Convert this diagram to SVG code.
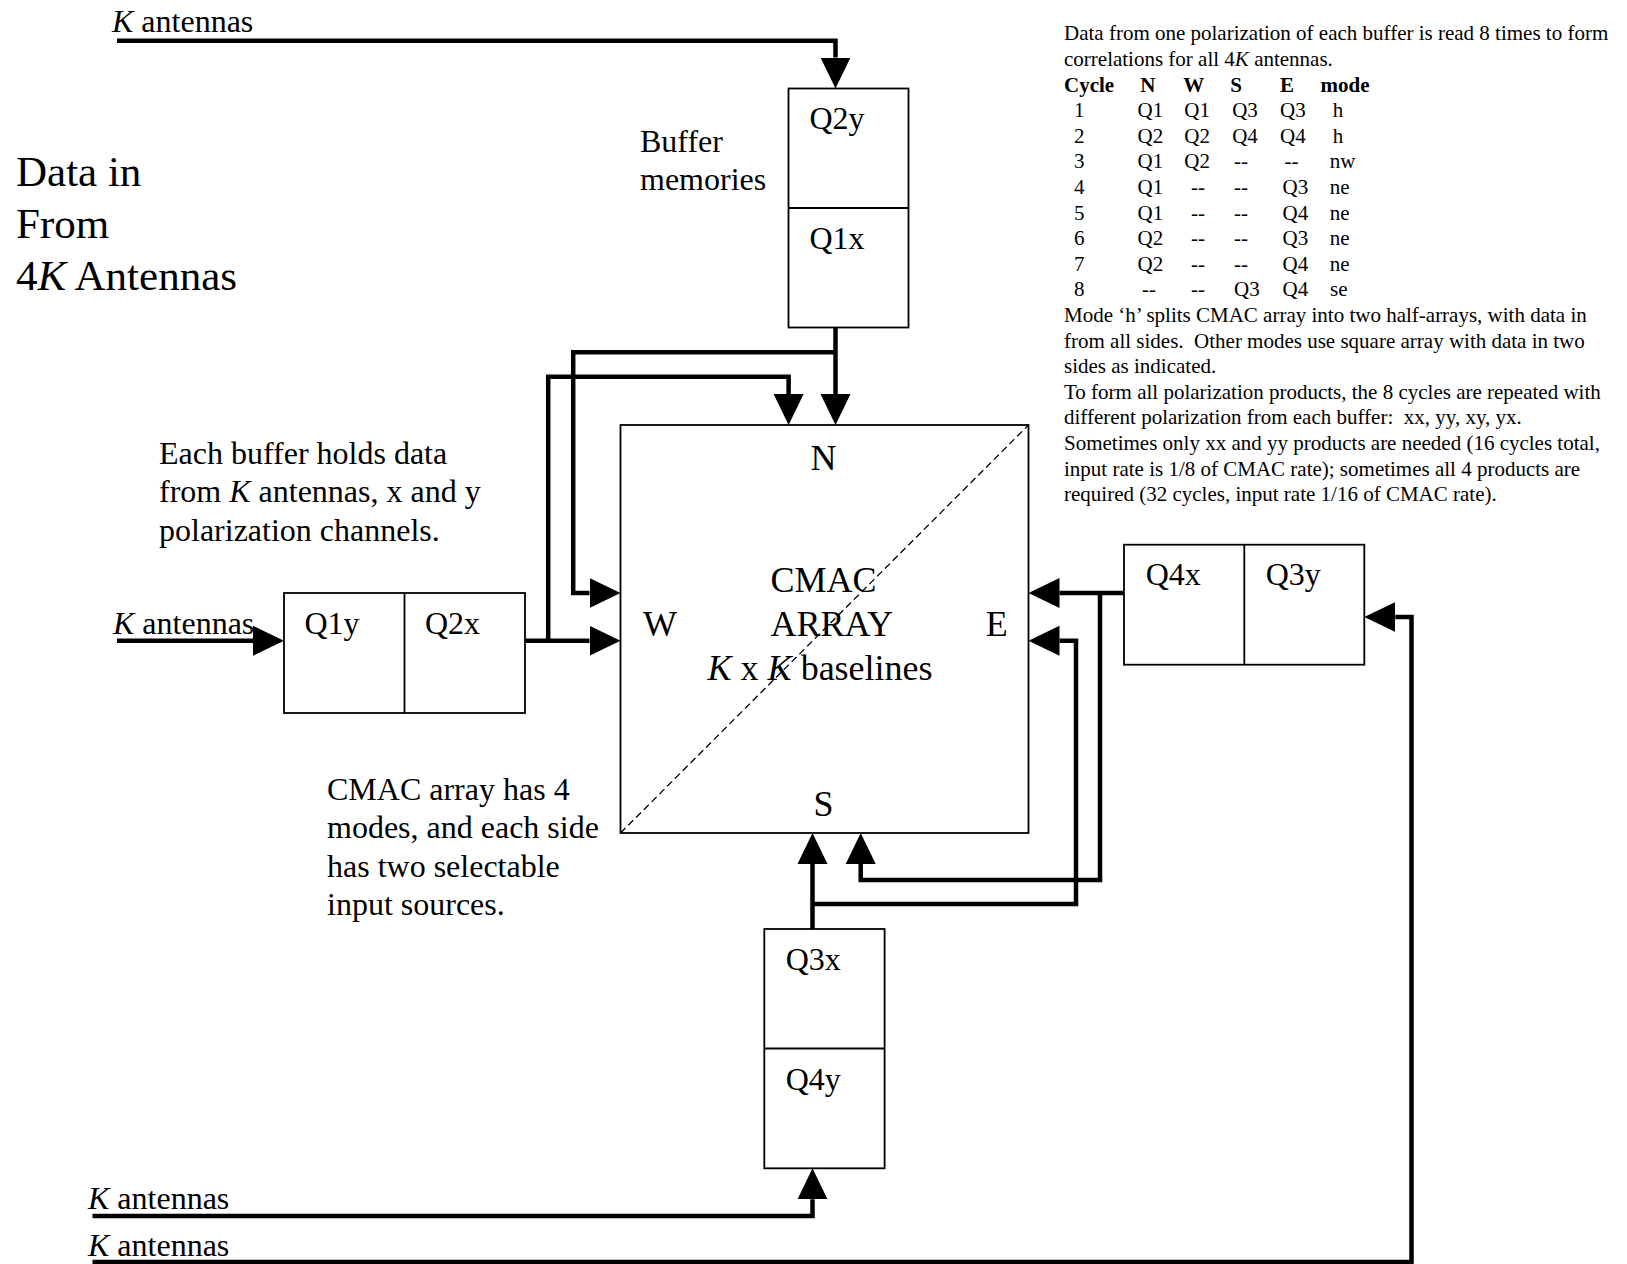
<svg xmlns="http://www.w3.org/2000/svg" width="1627" height="1264" viewBox="0 0 1627 1264">
<style>
text{font-family:"Liberation Serif","Times New Roman",serif;fill:#000}
.q{font-size:32px}
.m{font-size:32px}
.big{font-size:43px}
.c{font-size:36px}
.s{font-size:21px}
.b{font-weight:bold}
.i{font-style:italic}
.box{fill:#fff;stroke:#000;stroke-width:1.8}
.div{stroke:#000;stroke-width:1.8}
.w{fill:none;stroke:#000;stroke-width:4.5;stroke-linejoin:miter}
</style>
<defs>
<marker id="ah" markerUnits="userSpaceOnUse" markerWidth="32" markerHeight="32" viewBox="0 -16 32 32" refX="0" refY="0" orient="auto">
<path d="M0,-15 L31,0 L0,15 z" fill="#000"/>
</marker>
</defs>

<g id="notes">
<text class="big" x="16" y="186">Data in</text>
<text class="big" x="16" y="238">From</text>
<text class="big" x="16" y="289.5">4<tspan class="i">K</tspan> Antennas</text>
<text class="m" x="640" y="152">Buffer</text>
<text class="m" x="640" y="190">memories</text>
<text class="m" x="159" y="464">Each buffer holds data</text>
<text class="m" x="159" y="502.4">from <tspan class="i">K</tspan> antennas, x and y</text>
<text class="m" x="159" y="540.8">polarization channels.</text>
<text class="m" x="327" y="800">CMAC array has 4</text>
<text class="m" x="327" y="838.4">modes, and each side</text>
<text class="m" x="327" y="876.8">has two selectable</text>
<text class="m" x="327" y="915.2">input sources.</text>
<text class="m" x="112" y="32"><tspan class="i">K</tspan> antennas</text>
<text class="m" x="113" y="634"><tspan class="i">K</tspan> antennas</text>
<text class="m" x="88" y="1209"><tspan class="i">K</tspan> antennas</text>
<text class="m" x="88" y="1256"><tspan class="i">K</tspan> antennas</text>
</g>

<g id="table" class="s">
<text class="s" x="1064" y="40.3">Data from one polarization of each buffer is read 8 times to form</text>
<text class="s" x="1064" y="65.9">correlations for all 4<tspan class="i">K</tspan> antennas.</text>
<text class="s b" y="91.5"><tspan x="1064">Cycle</tspan><tspan x="1140.2">N</tspan><tspan x="1183.2">W</tspan><tspan x="1230.3">S</tspan><tspan x="1280">E</tspan><tspan x="1320.5">mode</tspan></text>
<text class="s" y="117.1"><tspan x="1074">1</tspan><tspan x="1137.6">Q1</tspan><tspan x="1184.3">Q1</tspan><tspan x="1232.2">Q3</tspan><tspan x="1280">Q3</tspan><tspan x="1332.7">h</tspan></text>
<text class="s" y="142.7"><tspan x="1074">2</tspan><tspan x="1137.6">Q2</tspan><tspan x="1184.3">Q2</tspan><tspan x="1232.2">Q4</tspan><tspan x="1280">Q4</tspan><tspan x="1332.7">h</tspan></text>
<text class="s" y="168.3"><tspan x="1074">3</tspan><tspan x="1137.6">Q1</tspan><tspan x="1184.3">Q2</tspan><tspan x="1234">--</tspan><tspan x="1284.4">--</tspan><tspan x="1329.7">nw</tspan></text>
<text class="s" y="193.9"><tspan x="1074">4</tspan><tspan x="1137.6">Q1</tspan><tspan x="1191">--</tspan><tspan x="1234">--</tspan><tspan x="1282.6">Q3</tspan><tspan x="1329.7">ne</tspan></text>
<text class="s" y="219.5"><tspan x="1074">5</tspan><tspan x="1137.6">Q1</tspan><tspan x="1191">--</tspan><tspan x="1234">--</tspan><tspan x="1282.6">Q4</tspan><tspan x="1329.7">ne</tspan></text>
<text class="s" y="245.1"><tspan x="1074">6</tspan><tspan x="1137.6">Q2</tspan><tspan x="1191">--</tspan><tspan x="1234">--</tspan><tspan x="1282.6">Q3</tspan><tspan x="1329.7">ne</tspan></text>
<text class="s" y="270.7"><tspan x="1074">7</tspan><tspan x="1137.6">Q2</tspan><tspan x="1191">--</tspan><tspan x="1234">--</tspan><tspan x="1282.6">Q4</tspan><tspan x="1329.7">ne</tspan></text>
<text class="s" y="296.3"><tspan x="1074">8</tspan><tspan x="1142">--</tspan><tspan x="1191">--</tspan><tspan x="1234">Q3</tspan><tspan x="1282.6">Q4</tspan><tspan x="1330">se</tspan></text>
<text class="s" x="1064" y="321.9">Mode ‘h’ splits CMAC array into two half-arrays, with data in</text>
<text class="s" x="1064" y="347.5">from all sides.&#160; Other modes use square array with data in two</text>
<text class="s" x="1064" y="373.1">sides as indicated.</text>
<text class="s" x="1064" y="398.7">To form all polarization products, the 8 cycles are repeated with</text>
<text class="s" x="1064" y="424.3">different polarization from each buffer:&#160; xx, yy, xy, yx.</text>
<text class="s" x="1064" y="449.9">Sometimes only xx and yy products are needed (16 cycles total,</text>
<text class="s" x="1064" y="475.5">input rate is 1/8 of CMAC rate); sometimes all 4 products are</text>
<text class="s" x="1064" y="501.1">required (32 cycles, input rate 1/16 of CMAC rate).</text>
</g>

<g id="connectors">
<path class="w" d="M117,40.7 H835.5 V57.5" marker-end="url(#ah)"/>
<path class="w" d="M835.5,327.5 V394" marker-end="url(#ah)"/>
<path class="w" d="M835.5,352.3 H573.2 V593 H589.5" marker-end="url(#ah)"/>
<path class="w" d="M525,640.7 H589.5" marker-end="url(#ah)"/>
<path class="w" d="M548.2,640.7 V376.7 H788.6 V394" marker-end="url(#ah)"/>
<path class="w" d="M117,640.7 H253" marker-end="url(#ah)"/>
<path class="w" d="M1124,593 H1059.5" marker-end="url(#ah)"/>
<path class="w" d="M1100,593 V880 H860.7 V864" marker-end="url(#ah)"/>
<path class="w" d="M812.5,929 V864" marker-end="url(#ah)"/>
<path class="w" d="M812.5,904 H1076 V640.7 H1059.5" marker-end="url(#ah)"/>
<path class="w" d="M92.5,1216 H812.5 V1199.3" marker-end="url(#ah)"/>
<path class="w" d="M92.5,1262 H1411.5 V617 H1395.3" marker-end="url(#ah)"/>
</g>

<g id="cmac">
<rect class="box" x="620.5" y="425" width="408" height="408" fill="none"/>
<line x1="620.5" y1="833" x2="1028.5" y2="425" stroke="#000" stroke-width="1.3" stroke-dasharray="7 4"/>
<text class="c" x="823.5" y="470" text-anchor="middle">N</text>
<text class="c" x="823.5" y="815.7" text-anchor="middle">S</text>
<text class="c" x="643" y="636">W</text>
<text class="c" x="985.7" y="636">E</text>
<text class="c" x="770.4" y="592.3">CMAC</text>
<text class="c" x="770.4" y="636">ARRAY</text>
<text class="c" x="707.6" y="680"><tspan class="i">K</tspan> x <tspan class="i">K</tspan> baselines</text>
</g>

<g id="buffer-n">
<rect class="box" x="788.5" y="88.5" width="120" height="239"/>
<line class="div" x1="788.5" y1="208" x2="908.5" y2="208"/>
<text class="q" x="809.5" y="128.5">Q2y</text>
<text class="q" x="809.5" y="248.5">Q1x</text>
</g>

<g id="buffer-w">
<rect class="box" x="284" y="593" width="241" height="120"/>
<line class="div" x1="404.5" y1="593" x2="404.5" y2="713"/>
<text class="q" x="304.5" y="634">Q1y</text>
<text class="q" x="425" y="634">Q2x</text>
</g>

<g id="buffer-e">
<rect class="box" x="1124" y="544.7" width="240.3" height="120"/>
<line class="div" x1="1244.3" y1="544.7" x2="1244.3" y2="664.7"/>
<text class="q" x="1145.7" y="585">Q4x</text>
<text class="q" x="1265.7" y="585">Q3y</text>
</g>

<g id="buffer-s">
<rect class="box" x="764.3" y="929" width="120.3" height="239.3"/>
<line class="div" x1="764.3" y1="1048.5" x2="884.6" y2="1048.5"/>
<text class="q" x="785.7" y="970">Q3x</text>
<text class="q" x="785.7" y="1090">Q4y</text>
</g>
</svg>
